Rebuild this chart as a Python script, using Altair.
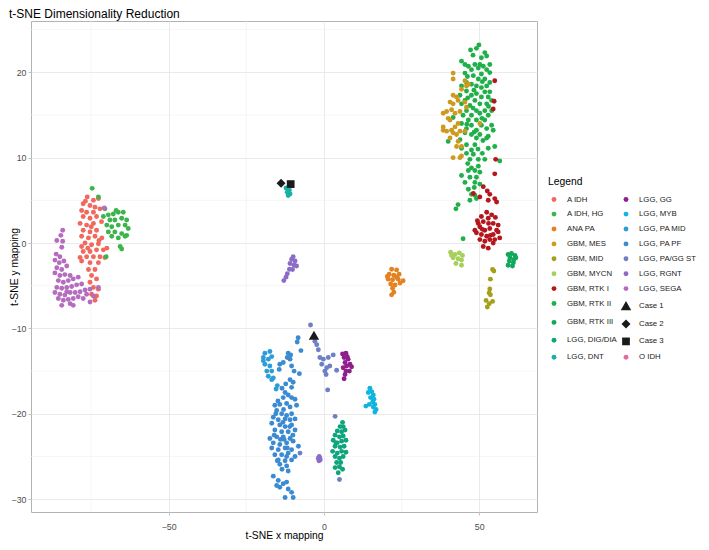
import altair as alt
import pandas as pd

# ---------------- data ----------------
col1 = ["A IDH", "A IDH, HG", "ANA PA", "GBM, MES", "GBM, MID", "GBM, MYCN",
        "GBM, RTK I", "GBM, RTK II", "GBM, RTK III", "LGG, DIG/DIA", "LGG, DNT"]
col2 = ["LGG, GG", "LGG, MYB", "LGG, PA MID", "LGG, PA PF", "LGG, PA/GG ST",
        "LGG, RGNT", "LGG, SEGA", "Case 1", "Case 2", "Case 3", "O IDH"]
colors1 = ["#F0685E", "#3CB44B", "#E3821E", "#CD9A1E", "#A59F1A", "#A6CF5B",
           "#B4161C", "#1FB04A", "#12A85C", "#0FA57C", "#17B2A6"]
colors2 = ["#8E1F8C", "#10B4DF", "#2C9DD8", "#3B8AD2", "#6E7FC6",
           "#8B6DC8", "#B56CBF", "#1A1A1A", "#1A1A1A", "#1A1A1A", "#E8679F"]
shapes1 = ["circle"] * 11
shapes2 = ["circle"] * 7 + ["triangle-up", "diamond", "square", "circle"]
sizes1 = [24] * 11
sizes2 = [24] * 7 + [110, 80, 60, 24]

a_idh = [(-76.2,5.4),(-74.2,5.0),(-72.6,5.2),(-77.5,4.6),(-75.3,4.4),(-73.7,4.2),(-78.0,3.8),
         (-76.4,3.6),(-74.2,3.6),(-72.1,4.0),(-77.5,3.1),(-75.3,2.9),(-73.2,3.1),(-78.5,2.3),
         (-76.4,2.1),(-74.2,2.3),(-71.6,2.5),(-77.5,1.5),(-75.3,1.3),(-73.2,1.5),(-78.0,0.8),
         (-75.8,0.6),(-73.7,0.8),(-71.5,0.6),(-76.9,0.0),(-74.8,-0.2),(-72.6,-0.1),(-69.9,-0.6),
         (-77.5,-1.0),(-75.3,-1.0),(-73.2,-0.8),(-71.0,-0.8),(-76.4,-1.6),(-74.2,-1.6),(-72.1,-1.6),
         (-78.0,-2.1),(-75.3,-2.3),(-72.6,-2.3),(-75.8,-3.1),(-73.7,-3.1),(-74.8,-3.8),(-73.2,-4.2),
         (-75.3,-4.6),(-74.2,-5.2),(-72.6,-5.4),(-74.8,-6.0),(-73.2,-6.2),(-73.7,-6.7),(-78.5,-1.7),
         (-70.5,-1.7),(-78.0,-0.4),(-76.8,4.9),(-74.9,1.9),(-72.4,0.3),(-76.0,-0.6)]
a_idh_hg = [(-74.6,6.4),(-72.6,5.4),(-70.5,4.0),(-71.0,3.1),(-69.4,3.3),(-67.8,3.4),(-66.2,3.6),
            (-64.6,3.6),(-68.9,2.7),(-67.3,2.7),(-65.1,2.9),(-63.5,2.7),(-69.9,2.1),(-68.3,1.9),
            (-66.2,2.1),(-64.0,2.1),(-63.0,1.7),(-69.4,1.3),(-67.3,1.3),(-65.1,1.1),(-63.5,0.9),
            (-68.3,0.8),(-66.2,0.6),(-64.0,0.8),(-65.6,-0.4),(-65.1,-0.7),(-70.1,-1.6),(-66.9,3.8)]
lgg_sega = [(-84.1,1.5),(-84.7,0.9),(-86.0,0.3),(-84.1,0.2),(-84.4,-0.5),(-86.2,-1.3),(-85.0,-1.6),
            (-86.6,-2.0),(-85.2,-2.3),(-83.7,-2.1),(-86.0,-2.9),(-84.4,-3.1),(-82.8,-2.7),(-86.6,-3.5),
            (-85.0,-3.8),(-83.4,-3.7),(-81.7,-3.8),(-85.5,-4.4),(-83.9,-4.6),(-82.3,-4.4),(-80.7,-4.2),
            (-79.1,-4.0),(-86.0,-5.2),(-84.4,-5.3),(-82.8,-5.2),(-81.2,-5.1),(-79.6,-4.9),(-78.0,-4.8),
            (-86.6,-5.8),(-85.0,-6.0),(-83.4,-6.1),(-81.7,-5.8),(-80.1,-5.8),(-78.5,-5.7),(-76.9,-5.5),
            (-75.3,-5.4),(-85.5,-6.5),(-83.9,-6.7),(-82.3,-6.6),(-80.7,-6.5),(-79.1,-6.3),(-77.5,-6.5),
            (-84.4,-7.3),(-81.7,-7.1),(-75.3,-6.9),(-74.2,-6.2),(-72.6,-5.2),(-70.7,4.1),(-80.7,-7.3),
            (-76.4,-6.0),(-82.8,-5.7)]
gbm_rtk2 = [(49.9,23.2),(49.1,22.8),(47.2,22.6),(51.8,22.3),(52.4,21.9),(50.7,21.7),(44.3,21.3),
            (45.4,20.9),(46.5,20.7),(48.6,20.9),(50.2,20.9),(51.3,20.7),(53.4,20.9),(47.5,20.3),
            (49.7,20.5),(52.4,20.3),(45.4,19.9),(50.7,19.8),(53.4,19.96),(48.1,19.6),(49.7,19.2),
            (51.8,19.2),(45.9,18.8),(47.5,18.6),(53.4,18.8),(44.3,18.4),(49.1,18.4),(50.7,18.2),
            (52.4,18.4),(45.9,17.8),(51.8,17.7),(53.4,17.7),(43.8,17.3),(47.5,17.3),(49.1,17.5),
            (50.7,17.1),(52.9,17.1),(45.4,16.7),(48.6,16.7),(54.0,16.7),(44.3,16.3),(47.0,16.1),
            (50.2,16.3),(52.4,16.3),(45.9,15.5),(49.1,15.5),(51.8,15.5),(54.0,15.5),(44.8,14.97),
            (47.5,14.97),(50.2,15.2),(52.9,14.97),(41.6,14.7),(46.5,14.4),(49.1,14.4),(51.8,14.4),
            (44.3,14.0),(47.5,13.8),(50.7,13.8),(54.0,13.8),(45.9,13.4),(49.1,13.2),(52.4,13.4),
            (54.5,13.2),(45.4,12.9),(47.5,12.7),(50.2,12.7),(52.9,12.5),(40.0,11.9),(43.8,12.1),
            (49.1,12.3),(45.9,11.5),(48.6,11.5),(52.4,12.3),(44.3,11.1),(47.5,10.9),(52.9,11.1),
            (55.0,11.3),(45.9,10.5),(48.1,10.4),(47.0,9.8),(49.7,9.8),(51.8,9.8),(56.6,9.6),
            (47.5,8.8),(49.7,9.0),(46.5,8.5),(48.6,8.5),(50.2,8.3),(44.3,7.9),(47.0,7.7),(49.1,7.7),
            (45.4,7.1),(48.6,7.1),(50.2,6.9),(46.5,6.3),(47.5,5.7),(48.6,5.6),(47.0,5.0),(43.2,4.5),
            (49.1,5.2),(44.8,0.5),(48.0,22.0),(46.2,19.5),(51.0,18.9),(48.3,17.9),(46.3,17.0),
            (53.0,16.0),(48.0,15.8),(50.9,14.6),(46.0,13.9),(48.4,13.0),(51.2,12.0),(49.6,11.0),
            (51.0,10.5),(46.3,9.3),(48.4,6.5),(42.5,4.0)]
gbm_mes = [(41.6,19.9),(41.6,19.2),(45.4,19.0),(45.9,18.4),(44.3,18.0),(46.5,18.6),(41.6,17.3),
           (42.7,17.1),(40.6,16.5),(41.6,16.3),(43.2,16.7),(45.4,16.5),(39.5,15.4),(38.4,15.2),
           (41.1,15.6),(42.2,15.2),(43.8,15.4),(40.6,14.4),(38.4,13.6),(39.5,13.1),(41.1,13.2),
           (42.2,13.6),(43.2,14.0),(41.6,12.9),(40.6,12.3),(42.7,12.7),(43.8,13.1),(45.4,13.1),
           (43.2,11.9),(42.7,11.3),(44.3,11.3),(41.6,10.0),(43.8,10.0),(44.3,10.2),(50.2,14.0),
           (45.9,15.9),(38.4,13.2),(40.0,14.6)]
gbm_rtk1 = [(55.0,19.0),(54.8,16.6),(54.5,15.7),(55.3,9.8),(55.0,8.1),(51.3,6.6),(52.6,6.1),
            (53.4,5.7),(48.1,5.8),(50.2,5.4),(55.0,5.2),(55.6,4.8),(49.7,2.3),(51.3,2.5),(52.9,2.9),
            (54.5,2.3),(50.2,1.9),(51.8,1.5),(53.4,1.7),(55.6,1.5),(49.1,1.2),(50.7,1.0),(52.4,0.8),
            (54.5,1.0),(56.1,1.3),(50.2,0.4),(51.8,0.2),(53.4,0.4),(55.0,0.4),(51.3,-0.4),(52.9,-0.6),
            (54.5,0.0),(49.4,2.6),(48.6,1.5),(52.4,3.6),(54.0,3.3),(56.1,2.1),(50.7,3.1),(52.9,5.0),
            (56.6,0.6),(53.0,2.3),(51.0,1.6),(53.6,0.9),(55.2,3.0)]
gbm_mycn = [(40.8,-1.08),(42.2,-1.35),(43.6,-1.16),(44.6,-1.46),(41.6,-1.73),(43.2,-1.85),
            (44.3,-2.0),(42.5,-2.4),(44.3,-2.6),(41.1,-1.46)]
gbm_mid = [(54.3,-3.1),(54.7,-3.27),(53.6,-4.23),(53.4,-5.38),(53.2,-5.84),(53.6,-6.07),
           (52.2,-6.72),(53.2,-7.1),(54.3,-6.84),(52.6,-7.5)]
gbm_rtk3 = [(59.3,-1.35),(60.4,-1.23),(61.5,-1.46),(59.9,-1.73),(61.2,-1.92),(59.7,-2.1),
            (61.0,-2.3),(59.3,-2.6),(60.7,-2.69),(61.8,-1.73)]
ana_pa = [(21.8,-3.08),(23.4,-3.15),(21.0,-3.65),(22.5,-3.77),(24.2,-3.65),(20.7,-4.23),(22.1,-4.3),
          (23.9,-4.23),(25.5,-4.42),(21.5,-4.8),(22.9,-4.92),(24.5,-4.69),(22.1,-5.3),(22.5,-5.76),
          (21.8,-6.07),(23.4,-4.0),(20.4,-3.92)]
lgg_dnt = [(-12.2,6.45),(-11.1,6.2),(-11.8,5.95),(-10.9,5.75),(-11.5,5.56)]
lgg_rgnt = [(-9.9,-1.6),(-10.4,-1.9),(-9.3,-2.1),(-10.9,-2.4),(-9.6,-2.6),(-8.8,-2.7),(-11.1,-3.07),
            (-10.1,-3.1),(-11.8,-3.6),(-12.2,-4.0),(-12.9,-4.4),(-1.8,-25.2),(-1.2,-25.4),
            (-1.5,-25.0),(-1.6,-25.5),(-1.3,-25.2)]
lgg_pa_mid = [(-19.0,-12.9),(-17.4,-12.7),(-19.5,-13.4),(-17.9,-13.6),(-16.8,-13.3),(-19.0,-14.2),
              (-17.4,-14.4),(-18.4,-15.0),(-16.8,-15.0),(-17.9,-15.6),(-16.8,-16.0),(-16.3,-15.8),
              (-15.0,-16.7),(-15.4,-17.1),(-19.5,-13.8)]
lgg_pa_pf = [(-11.5,-12.9),(-10.7,-13.1),(-11.8,-13.4),(-10.9,-13.6),(-14.2,-14.2),(-13.1,-14.0),
             (-14.4,-14.8),(-10.4,-14.4),(-9.6,-15.0),(-7.9,-15.3),(-8.3,-11.1),(-8.6,-11.6),
             (-7.4,-12.6),(-10.9,-16.0),(-9.9,-16.3),(-10.4,-16.9),(-12.5,-17.5),(-11.5,-17.8),
             (-13.1,-18.1),(-10.4,-18.1),(-9.3,-18.3),(-8.8,-19.0),(-15.8,-19.0),(-14.2,-18.9),
             (-12.0,-18.8),(-10.9,-19.2),(-15.2,-19.6),(-13.6,-20.0),(-12.0,-20.2),(-10.4,-20.0),
             (-16.3,-20.4),(-14.7,-20.7),(-12.5,-20.6),(-10.9,-20.7),(-9.3,-20.6),(-16.8,-21.1),
             (-14.2,-21.3),(-12.5,-21.5),(-10.4,-21.3),(-15.8,-21.9),(-13.6,-22.1),(-11.5,-22.1),
             (-9.3,-21.9),(-17.4,-22.9),(-15.2,-22.7),(-13.1,-22.7),(-10.9,-22.9),(-16.3,-23.4),
             (-14.2,-23.6),(-12.0,-23.4),(-9.9,-23.2),(-16.8,-24.0),(-14.7,-24.2),(-12.5,-24.0),
             (-10.4,-24.2),(-8.2,-23.8),(-15.8,-24.8),(-13.6,-24.8),(-11.5,-24.6),(-9.3,-25.0),
             (-14.7,-25.4),(-12.5,-25.5),(-10.4,-25.4),(-14.2,-25.9),(-12.0,-26.1),(-11.5,-26.7),
             (-16.3,-27.3),(-14.7,-27.8),(-13.1,-28.2),(-14.2,-28.6),(-11.5,-28.8),(-10.4,-29.2),
             (-12.5,-29.8),(-9.9,-29.8),(-15.2,-28.4),(-12.0,-28.0),(-15.5,-20.0),(-13.0,-19.5),
             (-11.0,-21.5),(-14.0,-23.0),(-12.8,-23.0),(-15.0,-25.5),(-12.0,-25.0),(-13.5,-26.5),
             (-16.0,-22.5),(-11.8,-24.0),(-10.0,-22.5),(-13.2,-21.0),(-14.8,-18.5),(-12.3,-16.5),
             (-13.5,-17.0)]
lgg_pa_gg_st = [(-4.3,-9.6),(-2.9,-11.5),(-2.3,-11.9),(-1.3,-13.4),(-0.2,-13.6),(1.4,-13.4),
                (3.0,-13.1),(-0.7,-14.2),(0.9,-14.6),(1.9,-14.4),(0.3,-15.0),(0.7,-15.4),(4.1,-14.9),
                (1.2,-17.2),(3.6,-20.3),(-7.7,-24.6),(5.0,-27.7),(-1.8,-12.5)]
lgg_gg = [(6.0,-13.0),(7.1,-12.9),(6.5,-13.4),(7.8,-13.6),(6.8,-14.0),(8.4,-14.2),(7.3,-14.4),
          (8.9,-14.5),(6.2,-14.6),(7.1,-15.0),(8.2,-15.0),(6.8,-15.4),(6.5,-15.9),(7.5,-13.3)]
lgg_myb = [(14.8,-17.0),(15.4,-17.4),(15.9,-17.8),(15.0,-18.1),(16.1,-18.3),(15.7,-18.6),(16.4,-18.9),
           (14.6,-18.9),(13.5,-19.1),(15.9,-19.2),(16.8,-19.5),(16.4,-19.8),(14.3,-17.5)]
lgg_dig = [(6.0,-21.0),(5.2,-21.5),(4.3,-22.0),(5.7,-22.1),(6.8,-21.9),(3.6,-22.5),(5.0,-22.7),
           (6.2,-22.6),(3.0,-23.1),(4.3,-23.4),(5.7,-23.2),(7.1,-23.1),(3.6,-23.8),(5.2,-23.9),
           (6.5,-23.8),(2.8,-24.4),(4.3,-24.6),(5.7,-24.4),(7.1,-24.5),(3.6,-25.0),(5.0,-25.2),
           (6.2,-25.0),(4.1,-25.7),(5.4,-25.7),(3.6,-26.3),(5.0,-26.2),(6.0,-26.5),(4.6,-26.9),
           (3.9,-23.4),(6.2,-21.5)]
case1 = [(-3.2, -10.8)]
case2 = [(-13.8, 7.0)]
case3 = [(-10.7, 6.9)]

groups = {
    "A IDH": a_idh, "A IDH, HG": a_idh_hg, "LGG, SEGA": lgg_sega, "GBM, RTK II": gbm_rtk2,
    "GBM, MES": gbm_mes, "GBM, RTK I": gbm_rtk1, "GBM, MYCN": gbm_mycn, "GBM, MID": gbm_mid,
    "GBM, RTK III": gbm_rtk3, "ANA PA": ana_pa, "LGG, DNT": lgg_dnt, "LGG, RGNT": lgg_rgnt,
    "LGG, PA MID": lgg_pa_mid, "LGG, PA PF": lgg_pa_pf, "LGG, PA/GG ST": lgg_pa_gg_st,
    "LGG, GG": lgg_gg, "LGG, MYB": lgg_myb, "LGG, DIG/DIA": lgg_dig,
    "Case 1": case1, "Case 2": case2, "Case 3": case3,
}

x_major = [-50, 0, 50]
y_major = [-30, -20, -10, 0, 10, 20]
x_minor = [-75, -25, 25]
y_minor = [-25, -15, -5, 5, 15, 25]
x_domain = [-94.3, 68.6]
y_domain = [-31.5, 26.0]

# ---------------- build ----------------
rows = []
for g, pts in groups.items():
    for (x, y) in pts:
        rows.append({"x": x, "y": y, "group": g})
df = pd.DataFrame(rows)

order = col1 + col2
col_range = colors1 + colors2
shp_range = shapes1 + shapes2
sz_range = sizes1 + sizes2

FONT = "Liberation Sans"
W, H = 506, 491
xs = alt.Scale(domain=x_domain, nice=False, zero=False)
ys = alt.Scale(domain=y_domain, nice=False, zero=False)

leg = alt.Legend(title="Legend", orient="none", legendX=517, legendY=156, columns=2,
                 titleFontSize=10.3, titleFont=FONT, titleFontWeight="normal", titleColor="#000000",
                 labelFontSize=7.8, labelFont=FONT, labelColor="#1A1A1A", rowPadding=2.9,
                 columnPadding=0, labelOffset=7, symbolOpacity=1, titlePadding=8, padding=0)

minor_x = alt.Chart(pd.DataFrame({"v": x_minor})).mark_rule(color="#F0F0F0", strokeWidth=0.6).encode(
    x=alt.X("v:Q", scale=xs))
minor_y = alt.Chart(pd.DataFrame({"v": y_minor})).mark_rule(color="#F0F0F0", strokeWidth=0.6).encode(
    y=alt.Y("v:Q", scale=ys))

points = alt.Chart(df).mark_point(filled=True, opacity=1, strokeWidth=0).encode(
    x=alt.X("x:Q", scale=xs, title="t-SNE x mapping",
            axis=alt.Axis(values=x_major, format="d", titleX=W / 2, titleY=23)),
    y=alt.Y("y:Q", scale=ys, title="t-SNE y mapping",
            axis=alt.Axis(values=y_major, format="d", titleX=-17)),
    color=alt.Color("group:N", scale=alt.Scale(domain=order, range=col_range), legend=leg),
    shape=alt.Shape("group:N", scale=alt.Scale(domain=order, range=shp_range), legend=leg),
    size=alt.Size("group:N", scale=alt.Scale(type="ordinal", domain=order, range=sz_range), legend=leg),
)

chart = alt.layer(minor_x, minor_y, points).properties(
    width=W, height=H,
    autosize=alt.AutoSizeParams(type="none"),
    padding={"left": 23, "top": 13, "right": 164, "bottom": 30},
    title=alt.TitleParams("t-SNE Dimensionality Reduction", anchor="start", fontSize=12,
                          font=FONT, fontWeight="normal", color="#000000", offset=0),
).configure_view(stroke="#B3B3B3", strokeWidth=1).configure_axis(
    gridColor="#E4E4E4", gridWidth=0.8, domain=False, tickColor="#B3B3B3", tickSize=3,
    tickWidth=0.8, labelFont=FONT, labelFontSize=8.8, labelColor="#4D4D4D", labelPadding=2,
    titleFont=FONT, titleFontSize=10.3, titleFontWeight="normal", titleColor="#000000",
    titleBaseline="middle", titleAlign="center", labelFlush=False, labelOverlap=False,
).configure_axisX(labelPadding=7)

chart.save("out.html", embed_options={"renderer": "svg", "actions": False})
